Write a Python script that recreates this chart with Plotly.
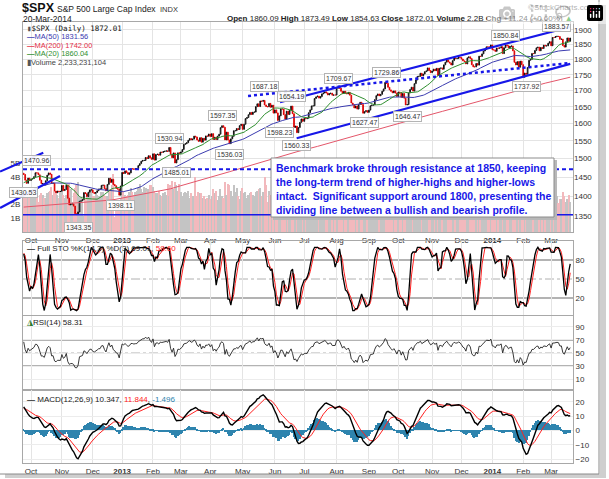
import numpy as np
import pandas as pd
import plotly.graph_objects as go

# ---------------- DATA ----------------
# warm-up closes (Jul 2 - Sep 21 2012), only used for indicator warm-up
close_warmup = [1365.51, 1374.02, 1367.58, 1354.68, 1352.46, 1341.47, 1341.45, 1334.76, 1356.78, 1353.64,
                1363.67, 1372.78, 1376.51, 1362.66, 1350.52, 1338.31, 1337.89, 1360.02, 1385.97, 1385.30,
                1379.32, 1375.32, 1365.00, 1390.99, 1394.23, 1401.35, 1402.22, 1402.80, 1405.87, 1404.11,
                1403.93, 1405.53, 1415.51, 1418.16, 1418.13, 1413.17, 1413.49, 1402.08, 1411.13, 1410.44,
                1409.30, 1410.49, 1399.48, 1406.58, 1404.94, 1403.44, 1432.12, 1437.92, 1429.08, 1433.56,
                1436.56, 1459.99, 1465.77, 1461.19, 1459.32, 1461.05, 1460.26, 1460.15]

close_2012_09 = [1456.89, 1441.59, 1433.32, 1447.15, 1440.67]
close_2012_10 = [1444.49, 1445.75, 1450.99, 1461.40, 1460.93, 1455.88, 1441.48, 1432.56, 1432.84, 1428.59,
                 1440.13, 1454.92, 1460.91, 1457.34, 1433.19, 1433.82, 1413.11, 1408.75, 1412.97, 1411.94, 1412.16]
close_2012_11 = [1427.59, 1414.20, 1417.26, 1428.39, 1394.53, 1377.51, 1379.85, 1380.03, 1374.53, 1355.49,
                 1353.33, 1359.88, 1386.89, 1387.81, 1391.03, 1409.15, 1406.29, 1398.94, 1409.93, 1415.95, 1416.18]
close_2012_12 = [1409.46, 1407.05, 1409.28, 1413.94, 1418.07, 1418.55, 1427.84, 1428.48, 1419.45, 1413.58,
                 1430.36, 1446.79, 1435.81, 1443.69, 1430.15, 1426.66, 1419.83, 1418.10, 1402.43, 1426.19]
close_2013_01 = [1462.42, 1459.37, 1466.47, 1461.89, 1457.15, 1461.02, 1472.12, 1472.05, 1470.68, 1472.34,
                 1472.63, 1480.94, 1485.98, 1492.56, 1494.81, 1494.82, 1502.96, 1500.18, 1507.84, 1501.96, 1498.11]
close_2013_02 = [1513.17, 1495.71, 1511.29, 1512.12, 1509.39, 1517.93, 1517.01, 1519.43, 1520.33, 1521.38,
                 1519.79, 1530.94, 1511.95, 1502.42, 1515.60, 1487.85, 1496.94, 1515.99, 1514.68]
close_2013_03 = [1518.20, 1525.20, 1539.79, 1541.46, 1544.26, 1551.18, 1556.22, 1552.48, 1554.52, 1563.23,
                 1560.70, 1552.10, 1548.34, 1558.71, 1545.80, 1556.89, 1551.69, 1563.77, 1562.85, 1569.19]
close_2013_04 = [1562.17, 1570.25, 1553.69, 1559.98, 1553.28, 1563.07, 1568.61, 1587.73, 1593.37, 1588.85,
                 1552.36, 1574.57, 1552.01, 1541.61, 1555.25, 1562.50, 1578.78, 1578.79, 1585.16, 1582.24,
                 1593.61, 1597.57]
close_2013_05 = [1582.70, 1597.59, 1614.42, 1617.50, 1625.96, 1632.69, 1626.67, 1633.70, 1633.77, 1650.34,
                 1658.78, 1650.47, 1667.47, 1666.29, 1669.16, 1655.35, 1650.51, 1649.60, 1660.06, 1648.36,
                 1654.41, 1630.74]
close_2013_06 = [1640.42, 1631.38, 1608.90, 1622.56, 1643.38, 1642.81, 1626.13, 1612.52, 1636.36, 1626.73,
                 1639.04, 1651.81, 1628.93, 1588.19, 1592.43, 1573.09, 1588.03, 1603.26, 1613.20, 1606.28]
close_2013_07 = [1614.96, 1614.08, 1615.41, 1631.89, 1640.46, 1652.32, 1652.62, 1675.02, 1680.19, 1682.50,
                 1676.26, 1680.91, 1689.37, 1692.09, 1695.53, 1692.39, 1685.94, 1690.25, 1691.65, 1685.33,
                 1685.96, 1685.73]
close_2013_08 = [1706.87, 1709.67, 1707.14, 1697.37, 1690.91, 1697.48, 1691.42, 1689.47, 1694.16, 1685.39,
                 1661.32, 1655.83, 1646.06, 1652.35, 1642.80, 1656.96, 1663.50, 1656.78, 1630.48, 1634.96,
                 1638.17, 1632.97]
close_2013_09 = [1639.77, 1653.08, 1655.08, 1655.17, 1671.71, 1683.99, 1689.13, 1683.42, 1687.99, 1697.60,
                 1704.76, 1725.52, 1722.34, 1709.91, 1701.84, 1697.42, 1692.77, 1698.67, 1691.75, 1681.55]
close_2013_10 = [1695.00, 1693.87, 1678.66, 1690.50, 1676.12, 1655.45, 1656.40, 1692.56, 1703.20, 1710.14,
                 1698.06, 1721.54, 1733.15, 1744.50, 1744.66, 1754.67, 1746.38, 1752.07, 1759.77, 1762.11,
                 1771.95, 1763.31, 1756.54]
close_2013_11 = [1761.64, 1767.93, 1762.97, 1770.49, 1747.15, 1770.61, 1771.89, 1767.69, 1782.00, 1790.62,
                 1798.18, 1791.53, 1787.87, 1781.37, 1795.85, 1804.76, 1802.48, 1802.75, 1807.23, 1805.81]
close_2013_12 = [1800.90, 1795.15, 1792.81, 1785.03, 1805.09, 1808.37, 1802.62, 1782.22, 1775.50, 1775.32,
                 1786.54, 1781.00, 1810.65, 1809.60, 1818.32, 1827.99, 1833.32, 1842.02, 1841.40, 1841.07, 1848.36]
close_2014_01 = [1831.98, 1831.37, 1826.77, 1837.88, 1837.49, 1838.13, 1842.37, 1819.20, 1838.88, 1848.38,
                 1845.89, 1838.70, 1843.80, 1844.86, 1828.46, 1790.29, 1781.56, 1792.50, 1774.20, 1794.19, 1782.59]
close_2014_02 = [1741.89, 1755.20, 1751.64, 1773.43, 1797.02, 1799.84, 1819.75, 1819.26, 1829.83, 1838.63,
                 1840.76, 1828.75, 1839.78, 1836.25, 1847.61, 1845.12, 1845.16, 1854.29, 1859.45]
close_2014_03 = [1845.73, 1873.91, 1873.81, 1877.03, 1878.04, 1877.17, 1867.63, 1868.20, 1846.34, 1841.13,
                 1858.83, 1872.25, 1860.77, 1872.01]

# volume in billions
vol_2012_09 = [2.6, 2.9, 3.0, 2.7, 2.8]
vol_2012_10 = [2.6, 2.7, 2.8, 2.6, 2.9, 2.2, 2.7, 2.8, 2.7, 2.5, 2.5, 2.8, 2.9, 3.0, 3.3, 2.7, 3.0, 2.9, 2.7, 2.5, 3.0]
vol_2012_11 = [2.9, 2.7, 2.5, 2.7, 3.4, 3.5, 3.1, 2.2, 2.8, 3.2, 3.4, 3.6, 2.6, 2.5, 2.2, 1.2, 2.4, 2.6, 2.7, 3.0, 3.1]
vol_2012_12 = [2.6, 2.6, 2.8, 2.7, 2.6, 2.4, 2.9, 2.9, 2.7, 2.6, 2.6, 3.0, 3.1, 3.4, 4.2, 1.1, 1.8, 2.0, 2.1, 2.5]
vol_2013_01 = [3.6, 3.0, 2.7, 2.6, 2.7, 2.9, 3.2, 2.9, 2.7, 2.9, 3.0, 3.2, 3.5, 3.1, 2.9, 3.3, 3.2, 3.0, 3.1, 3.4, 3.4]
vol_2013_02 = [3.3, 3.0, 2.8, 2.8, 3.0, 2.7, 2.6, 2.8, 2.9, 2.7, 3.5, 2.6, 3.4, 3.7, 3.1, 3.6, 3.4, 3.0, 3.5]
vol_2013_03 = [2.9, 2.6, 2.8, 2.9, 2.8, 3.0, 2.5, 2.8, 2.6, 2.6, 4.0, 2.6, 2.9, 2.8, 2.8, 2.5, 2.6, 2.4, 2.5, 2.7]
vol_2013_04 = [2.4, 2.6, 3.1, 2.8, 3.0, 2.3, 2.6, 3.1, 2.6, 2.5, 3.6, 2.7, 3.5, 3.4, 3.0, 2.6, 3.4, 2.9, 3.2, 2.6, 2.4, 3.0]
vol_2013_05 = [3.2, 2.8, 2.9, 2.5, 2.7, 2.8, 2.9, 2.7, 2.6, 2.9, 3.0, 3.1, 3.2, 2.6, 2.9, 4.0, 3.4, 2.2, 3.0, 2.7, 2.7, 3.7]
vol_2013_06 = [3.1, 3.0, 3.5, 3.5, 3.3, 2.8, 3.0, 3.2, 3.1, 2.9, 2.8, 2.7, 3.2, 4.3, 4.6, 4.2, 3.6, 3.2, 2.8, 3.3]
vol_2013_07 = [2.6, 2.9, 1.7, 2.3, 2.8, 2.8, 2.7, 3.0, 2.6, 2.5, 2.6, 2.8, 2.9, 3.0, 2.4, 2.6, 2.7, 2.6, 2.6, 2.5, 2.6, 3.3]
vol_2013_08 = [3.4, 2.8, 2.5, 2.6, 2.7, 2.8, 2.5, 2.2, 2.5, 2.4, 2.9, 2.8, 2.5, 2.6, 2.8, 2.4, 2.1, 2.4, 3.0, 2.5, 2.5, 2.4]
vol_2013_09 = [2.8, 2.6, 2.5, 2.8, 2.6, 2.9, 2.7, 2.5, 2.5, 2.9, 2.6, 3.2, 3.0, 4.1, 2.6, 2.6, 2.7, 2.5, 2.5, 2.9]
vol_2013_10 = [2.8, 2.7, 3.0, 2.5, 2.5, 3.0, 2.9, 3.1, 2.9, 2.6, 3.0, 3.0, 2.9, 3.1, 2.7, 2.9, 2.8, 2.9, 2.7, 2.6, 2.9, 2.9, 3.2]
vol_2013_11 = [2.9, 2.6, 2.6, 2.7, 3.2, 2.9, 1.9, 2.4, 2.6, 2.7, 3.0, 2.8, 2.8, 2.9, 2.8, 2.9, 2.8, 2.7, 2.6, 1.1]
vol_2013_12 = [2.7, 2.9, 2.9, 2.8, 2.8, 2.6, 2.7, 3.0, 2.9, 2.6, 2.9, 2.8, 3.7, 3.3, 4.9, 2.2, 1.1, 1.8, 1.9, 2.1, 2.0]
vol_2014_01 = [2.3, 2.4, 2.7, 2.8, 2.9, 2.7, 2.6, 3.1, 2.9, 2.8, 2.7, 3.1, 3.0, 2.9, 3.1, 3.7, 3.5, 3.0, 3.2, 3.1, 3.5]
vol_2014_02 = [4.0, 3.4, 3.3, 3.2, 2.9, 2.5, 2.8, 2.7, 2.9, 2.6, 2.7, 3.0, 2.6, 2.9, 2.6, 2.8, 2.6, 2.7, 3.0]
vol_2014_03 = [2.7, 2.8, 2.2, 2.5, 2.6, 2.1, 2.4, 2.4, 2.9, 2.6, 2.2, 2.4, 2.7, 2.2]

month_labels = ["", "Oct", "Nov", "Dec", "2013", "Feb", "Mar", "Apr", "May", "Jun", "Jul",
                "Aug", "Sep", "Oct", "Nov", "Dec", "2014", "Feb", "Mar"]

# 200-day moving average (trading-day index, value)
ma200_idx = [0, 10, 20, 30, 40, 50, 60, 67, 80, 90, 100, 107, 120, 130, 140, 150, 160, 170, 180, 186,
             200, 210, 220, 230, 240, 255, 270, 285, 300, 320, 340, 355, 372]
ma200_val = [1372, 1375, 1378, 1380, 1383, 1386, 1390, 1395, 1404, 1411, 1419, 1427, 1441, 1452, 1464,
             1476, 1488, 1500, 1512, 1519, 1534, 1546, 1557, 1569, 1581, 1600, 1618, 1636, 1654, 1679,
             1704, 1723, 1742]

# high / low annotations (trading-day index, price, 1 = high label above, -1 = low label below)
hl_idx = [9, 0, 37, 66, 99, 104, 135, 140, 164, 174, 182, 186, 214, 232, 247, 261, 328, 342, 363]
hl_val = [1470.96, 1430.53, 1343.35, 1398.11, 1530.94, 1485.01, 1597.35, 1536.03, 1687.18, 1598.23,
          1654.19, 1560.33, 1709.67, 1627.47, 1729.86, 1646.47, 1850.84, 1737.92, 1883.57]
hl_side = [1, -1, -1, -1, 1, -1, 1, -1, 1, -1, 1, -1, 1, -1, 1, -1, 1, -1, 1]

# drawn trend lines (trading-day index, price)
trend_upper_idx, trend_upper_val = [174.5, 372], [1663.6, 1910.5]
trend_lower_idx, trend_lower_val = [185.8, 372], [1557.0, 1785.0]
trend_dot_idx, trend_dot_val = [152.7, 372], [1683.0, 1788.0]
chan_a_idx, chan_a_val = [-16.1, 13.3], [1464.6, 1516.4]
chan_b_idx, chan_b_val = [-16.1, 24.7], [1369.9, 1452.8]
resistance_level = 1470.96
support_level = 1353.0

comment_lines = ["Benchmark broke through resistance at 1850, keeping",
                 "the long-term trend of higher-highs and higher-lows",
                 "intact.  Significant support around 1800, presenting the",
                 "dividing line between a bullish and bearish profile."]

# ---------------- derived series ----------------
months_close = [close_2012_09, close_2012_10, close_2012_11, close_2012_12, close_2013_01, close_2013_02,
                close_2013_03, close_2013_04, close_2013_05, close_2013_06, close_2013_07, close_2013_08,
                close_2013_09, close_2013_10, close_2013_11, close_2013_12, close_2014_01, close_2014_02,
                close_2014_03]
months_vol = [vol_2012_09, vol_2012_10, vol_2012_11, vol_2012_12, vol_2013_01, vol_2013_02, vol_2013_03,
              vol_2013_04, vol_2013_05, vol_2013_06, vol_2013_07, vol_2013_08, vol_2013_09, vol_2013_10,
              vol_2013_11, vol_2013_12, vol_2014_01, vol_2014_02, vol_2014_03]

close = np.array(sum(months_close, []), dtype=float)
vol = np.array(sum(months_vol, []), dtype=float)
n = len(close)
xi = np.arange(n)
starts = np.cumsum([0] + [len(m) for m in months_close[:-1]])
tickvals = list(starts[1:])
ticktext = [("<b>%s</b>" % t if t.isdigit() else t) for t in month_labels[1:]]

w = len(close_warmup)
full = pd.Series(list(close_warmup) + list(close))
full_open = full.shift(1).fillna(full.iloc[0])
ma20 = full.rolling(20).mean().values[w:]
ma50 = full.rolling(50).mean().values[w:]
opens = full_open.values[w:]
highs = np.maximum(opens, close)
lows = np.minimum(opens, close)
up = close >= opens

fh = np.maximum(full_open, full)
fl = np.minimum(full_open, full)
hh = fh.rolling(14).max()
ll = fl.rolling(14).min()
fastk = 100 * (full - ll) / (hh - ll)
fullk = fastk.rolling(3).mean()
fulld = fullk.rolling(3).mean()
sto_k = fullk.values[w:]
sto_d = fulld.values[w:]

delta = full.diff().fillna(0)
gain = delta.clip(lower=0)
loss = (-delta).clip(lower=0)
ag = gain.ewm(alpha=1 / 14, adjust=False).mean()
al = loss.ewm(alpha=1 / 14, adjust=False).mean()
rsi = (100 - 100 / (1 + ag / al)).values[w:]

ema12 = full.ewm(span=12, adjust=False).mean()
ema26 = full.ewm(span=26, adjust=False).mean()
macd_s = ema12 - ema26
sig_s = macd_s.ewm(span=9, adjust=False).mean()
macd = macd_s.values[w:]
sig = sig_s.values[w:]
hist = macd - sig

# ---------------- geometry ----------------
L, R, T, B = 23, 573, 22, 463


def px(x):
    return (x - L) / (R - L)


def py(y):
    return (B - y) / (B - T)


XR = [-0.48, 373.9]
PR = [1310.6, 1928.0]
LPR = [np.log10(PR[0]), np.log10(PR[1])]
price_dom = [py(232), 1.0]
sto_dom = [py(315), py(241)]
rsi_dom = [py(390), py(316)]
macd_dom = [0.0, py(390)]
VOLR = [0, 15.27]


def ix_paper(i):
    return (i - XR[0]) / (XR[1] - XR[0])


def pr_paper(p):
    return price_dom[0] + (np.log10(p) - LPR[0]) / (LPR[1] - LPR[0]) * (price_dom[1] - price_dom[0])


FONT = "Liberation Sans, Arial, sans-serif"
BLUE = "#1717e8"

fig = go.Figure()

# volume (base axis of price panel)
fig.add_trace(go.Bar(x=xi, y=vol, xaxis="x", yaxis="y",
                     marker=dict(color=["#c4c4c4" if u else "#f2b9bd" for u in up], line=dict(width=0)),
                     width=0.85))
# moving averages
fig.add_trace(go.Scatter(x=ma200_idx, y=ma200_val, xaxis="x", yaxis="y5", mode="lines",
                         line=dict(color="#e4566a", width=1)))
fig.add_trace(go.Scatter(x=xi, y=ma50, xaxis="x", yaxis="y5", mode="lines",
                         line=dict(color="#3b3bb0", width=1)))
fig.add_trace(go.Scatter(x=xi, y=ma20, xaxis="x", yaxis="y5", mode="lines",
                         line=dict(color="#2f8f2f", width=1)))
# candles
fig.add_trace(go.Candlestick(x=xi, open=opens, high=highs, low=lows, close=close, xaxis="x", yaxis="y5",
                             increasing=dict(line=dict(color="black", width=0.9), fillcolor="white"),
                             decreasing=dict(line=dict(color="#e00000", width=0.9), fillcolor="#e00000"),
                             whiskerwidth=0))
# trend lines
fig.add_trace(go.Scatter(x=trend_upper_idx, y=trend_upper_val, xaxis="x", yaxis="y5", mode="lines",
                         line=dict(color=BLUE, width=2.2)))
fig.add_trace(go.Scatter(x=trend_lower_idx, y=trend_lower_val, xaxis="x", yaxis="y5", mode="lines",
                         line=dict(color=BLUE, width=2.2)))
fig.add_trace(go.Scatter(x=trend_dot_idx, y=trend_dot_val, xaxis="x", yaxis="y5", mode="lines",
                         line=dict(color=BLUE, width=2.5, dash="dot")))
fig.add_trace(go.Scatter(x=XR, y=[resistance_level] * 2, xaxis="x", yaxis="y5", mode="lines",
                         line=dict(color=BLUE, width=2, dash="4px,3px")))
fig.add_trace(go.Scatter(x=XR, y=[support_level] * 2, xaxis="x", yaxis="y5", mode="lines",
                         line=dict(color=BLUE, width=1.5)))

# STO
fig.add_trace(go.Scatter(x=xi, y=sto_d, xaxis="x2", yaxis="y2", mode="lines", line=dict(color="#ff2020", width=1)))
fig.add_trace(go.Scatter(x=xi, y=sto_k, xaxis="x2", yaxis="y2", mode="lines", line=dict(color="black", width=1.3)))
# RSI
fig.add_trace(go.Scatter(x=xi, y=rsi, xaxis="x3", yaxis="y3", mode="lines", line=dict(color="#222", width=0.9)))
# MACD
fig.add_trace(go.Bar(x=xi, y=hist, xaxis="x4", yaxis="y4", marker=dict(color="#2e84ae", line=dict(width=0)),
                     width=1.0))
fig.add_trace(go.Scatter(x=xi, y=sig, xaxis="x4", yaxis="y4", mode="lines", line=dict(color="#ff2020", width=1)))
fig.add_trace(go.Scatter(x=xi, y=macd, xaxis="x4", yaxis="y4", mode="lines", line=dict(color="black", width=1.4)))

tickfont = dict(size=8, color="#333", family=FONT)
xcommon = dict(range=XR, tickvals=tickvals, ticktext=ticktext, showgrid=True, gridcolor="#e4e4e4",
               zeroline=False, showline=True, linecolor="#a8a8a8", mirror=True, ticks="", ticklen=0,
               tickfont=tickfont, automargin=False, fixedrange=True)
ycommon = dict(zeroline=False, showline=True, linecolor="#a8a8a8", mirror=True, ticks="",
               tickfont=tickfont, automargin=False, side="right", fixedrange=True)

shapes = []
# indicator guide lines
for yv, dash, ref in [(80, "solid", "y2"), (20, "solid", "y2"), (50, "dashdot", "y2"),
                      (70, "solid", "y3"), (30, "solid", "y3"), (50, "dashdot", "y3")]:
    shapes.append(dict(type="line", xref="paper", x0=0, x1=1, yref=ref, y0=yv, y1=yv, layer="below",
                       line=dict(color="#9a9a9a" if dash == "solid" else "#b0b0b0",
                                 width=1.4 if dash == "solid" else 1, dash=dash)))
# left channel lines (extend beyond the panel)
for ii, vv in [(chan_a_idx, chan_a_val), (chan_b_idx, chan_b_val)]:
    shapes.append(dict(type="line", xref="paper", yref="paper",
                       x0=ix_paper(ii[0]), x1=ix_paper(ii[1]), y0=pr_paper(vv[0]), y1=pr_paper(vv[1]),
                       line=dict(color=BLUE, width=2.2), layer="above"))
# comment box with shadow
shapes.append(dict(type="rect", xref="paper", yref="paper", x0=px(273), x1=px(557), y0=py(220), y1=py(160),
                   fillcolor="#b8b8b8", line=dict(width=0), layer="above"))
shapes.append(dict(type="rect", xref="paper", yref="paper", x0=px(271), x1=px(554), y0=py(217), y1=py(158),
                   fillcolor="white", line=dict(color="#8c8c8c", width=1), layer="above"))
# outer page frame / shadow
shapes.append(dict(type="rect", xref="paper", yref="paper", x0=px(600), x1=px(606), y0=py(478), y1=py(5),
                   fillcolor="#cfcfcf", line=dict(width=0)))
shapes.append(dict(type="rect", xref="paper", yref="paper", x0=px(5), x1=px(606), y0=py(478), y1=py(474),
                   fillcolor="#cfcfcf", line=dict(width=0)))
shapes.append(dict(type="line", xref="paper", yref="paper", x0=px(599), x1=px(599), y0=py(474), y1=py(0),
                   line=dict(color="#8a8a8a", width=1)))
shapes.append(dict(type="line", xref="paper", yref="paper", x0=px(0), x1=px(599), y0=py(474), y1=py(474),
                   line=dict(color="#8a8a8a", width=1)))

ann = []


def text(x, y, s, size=8, color="#222", anchor="left", family=FONT, **kw):
    ann.append(dict(xref="paper", yref="paper", x=px(x), y=py(y), text=s, showarrow=False,
                    xanchor=anchor, yanchor="middle", font=dict(size=size, color=color, family=family), **kw))


# header
text(20, 8, "<b>$SPX</b>", size=12.5, color="#111")
text(55, 8.5, "S&amp;P 500 Large Cap Index", size=8.5, color="#222")
text(158, 9, "INDX", size=7.5, color="#333")
text(21, 18.5, "20-Mar-2014", size=8.5, color="#222")
text(597, 8, "©StockCharts.com", size=8, color="#666", anchor="right")
text(575, 18.5, "<b>Open</b> 1860.09 <b>High</b> 1873.49 <b>Low</b> 1854.63 <b>Close</b> 1872.01 "
     "<b>Volume</b> 2.2B <b>Chg</b> +11.24 (+0.60%) <span style='color:#1a9a1a'>▲</span>",
     size=8, color="#222", anchor="right")

# price-panel legend
text(25, 28, "<span style='color:#555'>▮</span>$SPX (Daily) 1872.01", size=7.5, color="#111",
     family="DejaVu Sans Mono, monospace")
text(25, 36.5, "<b>—</b>MA(50) 1831.56", size=7.5, color="#3b3bb0")
text(25, 45, "<b>—</b>MA(200) 1742.00", size=7.5, color="#e4304a")
text(25, 53.5, "<b>—</b>MA(20) 1860.04", size=7.5, color="#2f8f2f")
text(25, 62, "<span style='color:#555'>▮</span>Volume 2,233,231,104", size=7.5, color="#444")

# indicator legends
text(25, 248, "<b>—</b> Full STO %K(14,3) %D(3) 69.01, <span style='color:#ff2020'>58.60</span>",
     size=8, color="#222")
text(25, 322.5, "<span style='color:#2a7a2a'>◮</span>RSI(14) 58.31", size=8, color="#222")
text(25, 399, "<b>—</b> MACD(12,26,9) 10.347, <span style='color:#ff2020'>11.844</span>, "
     "<span style='color:#2e84ae'>-1.496</span>", size=8, color="#222")

# comment
for k, line in enumerate(comment_lines):
    text(274, 168 + 14 * k, "<b>%s</b>" % line, size=10.5, color=BLUE)

# high/low labels
for i, v, sd in zip(hl_idx, hl_val, hl_side):
    ann.append(dict(xref="x", yref="paper", x=i, y=pr_paper(v), yshift=8.5 * sd, text="%.2f" % v,
                    showarrow=False, xanchor="center", yanchor="middle",
                    font=dict(size=7, color="#333", family=FONT),
                    bgcolor="rgba(255,255,255,0.92)", bordercolor="#b4b4b4", borderwidth=1, borderpad=1))

fig.update_layout(
    width=609, height=479, margin=dict(l=L, r=609 - R, t=T, b=479 - B, autoexpand=False),
    paper_bgcolor="white", plot_bgcolor="white", showlegend=False, hovermode=False,
    bargap=0, barmode="overlay",
    xaxis=dict(xcommon, domain=[0, 1], anchor="y", rangeslider=dict(visible=False), showticklabels=True),
    xaxis2=dict(xcommon, matches="x", anchor="y2", showticklabels=False),
    xaxis3=dict(xcommon, matches="x", anchor="y3", showticklabels=False),
    xaxis4=dict(xcommon, matches="x", anchor="y4", showticklabels=True),
    yaxis=dict(ycommon, domain=price_dom, anchor="x", range=VOLR, side="left", showgrid=False,
               tickvals=[1, 2, 3, 4, 5], ticktext=["1B", "2B", "3B", "4B", "5B"]),
    yaxis5=dict(ycommon, overlaying="y", anchor="x", type="log", range=LPR, showgrid=True,
                gridcolor="#e4e4e4", tickvals=list(range(1350, 1901, 50)), showline=False),
    yaxis2=dict(ycommon, domain=sto_dom, anchor="x2", range=[-6.8, 110], tickvals=[20, 50, 80], showgrid=False),
    yaxis3=dict(ycommon, domain=rsi_dom, anchor="x3", range=[-6.9, 106.9], tickvals=[10, 30, 50, 70, 90],
                showgrid=True, gridcolor="#ececec"),
    yaxis4=dict(ycommon, domain=macd_dom, anchor="x4", range=[-22.8, 28.4], tickvals=[-20, -10, 0, 10, 20],
                showgrid=True, gridcolor="#ececec"),
    shapes=shapes, annotations=ann,
)

# remove the default 8px page margin so the 609x479 figure fills the window exactly
fig.write_html("out.html", post_script="document.body.style.margin='0';document.body.style.overflow='hidden';")
